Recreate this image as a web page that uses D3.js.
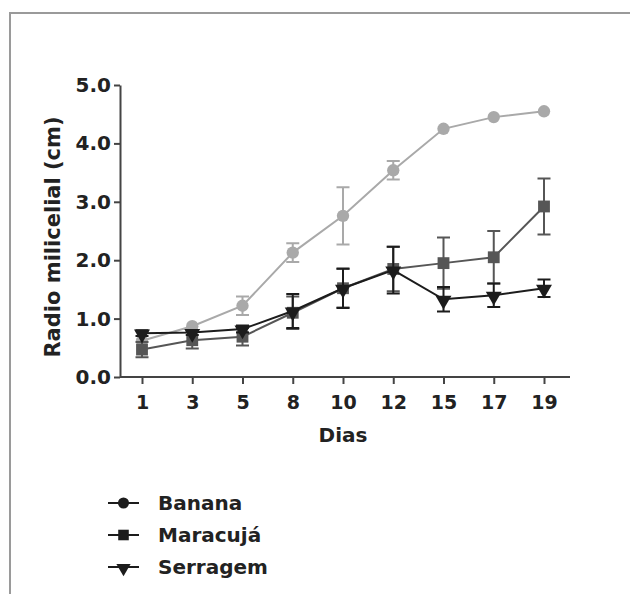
<!DOCTYPE html>
<html>
<head>
<meta charset="utf-8">
<script src="https://cdn.jsdelivr.net/npm/d3@7"></script>
<style>
  body { margin: 0; background: #fff; }
  svg text { font-family: "DejaVu Sans", Verdana, sans-serif; font-weight: bold; fill: #222; }
</style>
</head>
<body>
<div id="chart"></div>
<script>
// Days (categorical x axis)
const days = ["1", "3", "5", "8", "10", "12", "15", "17", "19"];
const yTicks = [0, 1, 2, 3, 4, 5];

const bananaMean = [0.62, 0.87, 1.22, 2.13, 2.76, 3.54, 4.25, 4.45, 4.55];
const bananaErr = [0, 0, 0.16, 0.16, 0.49, 0.16, 0, 0, 0];

const maracujaMean = [0.47, 0.63, 0.69, 1.10, 1.52, 1.85, 1.95, 2.05, 2.92];
const maracujaErr = [0.13, 0.14, 0.15, 0.28, 0.33, 0.38, 0.44, 0.45, 0.48];

const serragemMean = [0.75, 0.76, 0.82, 1.13, 1.52, 1.83, 1.33, 1.40, 1.52];
const serragemErr = [0.05, 0.04, 0.06, 0.29, 0.34, 0.40, 0.21, 0.20, 0.15];

const seriesNames = ["Banana", "Maracujá", "Serragem"];

const W = 630, H = 594;
const margin = { top: 85, left: 120 };
const plotH = 292;

const svg = d3.select("#chart").append("svg")
  .attr("width", W)
  .attr("height", H);

svg.append("rect").attr("width", W).attr("height", H).attr("fill", "#fff");

// frame (left + top only)
svg.append("path")
  .attr("d", `M10,${H} L10,13 L${W},13`)
  .attr("fill", "none")
  .attr("stroke", "#9a9a9a")
  .attr("stroke-width", 2);

const g = svg.append("g").attr("transform", `translate(${margin.left},${margin.top})`);

const x = d3.scalePoint().domain(days).range([22, 424]);
const y = d3.scaleLinear().domain([0, 5]).range([plotH, 0]);

// x axis
const xAxis = g.append("g")
  .attr("transform", `translate(0,${plotH})`)
  .call(d3.axisBottom(x).tickSize(7).tickPadding(12).tickSizeOuter(0));
xAxis.select(".domain").remove();
xAxis.append("line")
  .attr("x1", 0).attr("x2", 450)
  .attr("stroke", "#444").attr("stroke-width", 2);
xAxis.selectAll(".tick line").attr("stroke", "#444").attr("stroke-width", 2);
xAxis.selectAll("text").style("font-size", "19px").attr("fill", "#222");

// y axis
const yAxis = g.append("g")
  .call(d3.axisLeft(y).tickValues(yTicks).tickFormat(d3.format(".1f")).tickSize(6).tickPadding(3).tickSizeOuter(0));
yAxis.select(".domain").attr("stroke", "#444").attr("stroke-width", 2);
yAxis.selectAll(".tick line").attr("stroke", "#444").attr("stroke-width", 2);
yAxis.selectAll("text").style("font-size", "20px").attr("fill", "#222");

// axis titles
g.append("text")
  .attr("x", 223)
  .attr("y", plotH + 65)
  .attr("text-anchor", "middle")
  .style("font-size", "20px")
  .text("Dias");

g.append("text")
  .attr("transform", `translate(-60,${plotH / 2 + 6}) rotate(-90)`)
  .attr("text-anchor", "middle")
  .style("font-size", "21px")
  .text("Radio milicelial (cm)");

const series = [
  { name: seriesNames[0], mean: bananaMean, err: bananaErr, color: "#a9a9a9", symbol: d3.symbolCircle, size: 120, rot: 0 },
  { name: seriesNames[1], mean: maracujaMean, err: maracujaErr, color: "#565656", symbol: d3.symbolSquare, size: 140, rot: 0 },
  { name: seriesNames[2], mean: serragemMean, err: serragemErr, color: "#1c1c1c", symbol: d3.symbolTriangle, size: 110, rot: 180 }
];

const line = d3.line()
  .x((d, i) => x(days[i]))
  .y(d => y(d));

series.forEach(s => {
  const sg = g.append("g");

  sg.append("path")
    .datum(s.mean)
    .attr("d", line)
    .attr("fill", "none")
    .attr("stroke", s.color)
    .attr("stroke-width", 2);

  const pts = s.mean.map((m, i) => ({ day: days[i], m: m, e: s.err[i] })).filter(d => d.e > 0);

  sg.selectAll(".eb")
    .data(pts)
    .enter()
    .append("path")
    .attr("class", "eb")
    .attr("d", d => {
      const cx = x(d.day), y1 = y(d.m + d.e), y2 = y(d.m - d.e);
      return `M${cx},${y1}L${cx},${y2}M${cx - 6.5},${y1}L${cx + 6.5},${y1}M${cx - 6.5},${y2}L${cx + 6.5},${y2}`;
    })
    .attr("fill", "none")
    .attr("stroke", s.color)
    .attr("stroke-width", 2);

  sg.selectAll(".mk")
    .data(s.mean)
    .enter()
    .append("path")
    .attr("class", "mk")
    .attr("d", d3.symbol().type(s.symbol).size(s.size))
    .attr("transform", (d, i) => `translate(${x(days[i])},${y(d) + (s.rot ? 1 : 0)}) rotate(${s.rot})`)
    .attr("fill", s.color);
});

// legend
const legend = svg.append("g").attr("transform", "translate(108,503)");
series.forEach((s, i) => {
  const row = legend.append("g").attr("transform", `translate(0,${i * 32})`);
  row.append("line")
    .attr("x1", 0).attr("x2", 31)
    .attr("stroke", "#1c1c1c").attr("stroke-width", 2);
  row.append("path")
    .attr("d", d3.symbol().type(s.symbol).size(s.size * 0.8))
    .attr("transform", `translate(15.5,${s.rot ? 1 : 0}) rotate(${s.rot})`)
    .attr("fill", "#1c1c1c");
  row.append("text")
    .attr("x", 50)
    .attr("y", 7)
    .style("font-size", "20px")
    .text(s.name);
});
</script>
</body>
</html>
